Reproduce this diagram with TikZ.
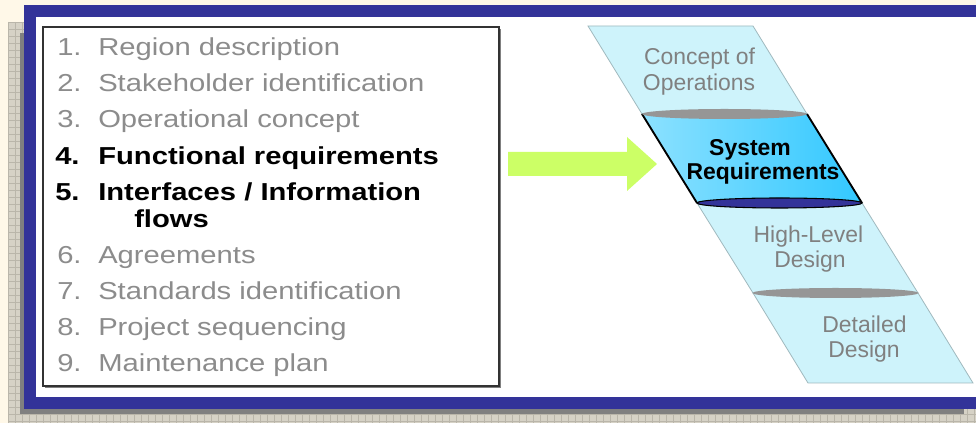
\documentclass[tikz,border=0pt]{standalone}
\usepackage{fontspec}
\setmainfont{Liberation Sans}
\usetikzlibrary{shapes.geometric}
\definecolor{cream}{RGB}{255,248,232}
\definecolor{texfill}{RGB}{214,210,198}
\definecolor{texline}{RGB}{186,182,170}
\definecolor{shadowgray}{RGB}{128,128,128}
\definecolor{frameblue}{RGB}{51,51,153}
\definecolor{listgray}{RGB}{140,140,140}
\definecolor{stagegray}{RGB}{128,128,128}
\definecolor{stagefill}{RGB}{206,243,251}
\definecolor{stageedge}{RGB}{160,185,190}
\definecolor{sysA}{RGB}{140,225,255}
\definecolor{sysB}{RGB}{50,200,255}
\definecolor{arrowgreen}{RGB}{204,255,102}
\definecolor{ellgray}{RGB}{150,150,150}
\newcommand{\wide}[1]{\scalebox{1.19}[1]{#1}}
\tikzset{
  listitem/.style={anchor=base west, inner sep=0pt, font=\fontsize{18.4pt}{22pt}\selectfont, text=listgray},
  listbold/.style={anchor=base west, inner sep=0pt, font=\fontsize{18.4pt}{22pt}\selectfont\bfseries, text=black},
  stagetext/.style={anchor=base, inner sep=0pt, font=\fontsize{17.2pt}{20pt}\selectfont, text=stagegray},
  systext/.style={anchor=base, inner sep=0pt, font=\fontsize{17.2pt}{20pt}\selectfont\bfseries, text=black},
  stage/.style={fill=stagefill, draw=stageedge, line width=0.6pt},
  texgrid/.style={draw=texline, line width=0.4pt},
}
\begin{document}
\begin{tikzpicture}[x=0.75pt,y=-0.75pt]
\useasboundingbox (0,0) rectangle (976,423);
% background
\fill[cream] (0,0) rectangle (976,423);
\fill[texfill] (8,22) rectangle (976,423);
\foreach \gx in {8,15,...,976} \draw[texgrid] (\gx,22) -- (\gx,423);
\foreach \gy in {22,29,...,423} \draw[texgrid] (8,\gy) -- (976,\gy);
% shadow and frame
\fill[shadowgray] (20,33) rectangle (964,414);
\fill[frameblue] (24,5) rectangle (976,409);
\fill[white] (36,17) rectangle (976,397);
% list box
\coordinate (boxnw) at (43,27);
\coordinate (boxse) at (499,386);
\draw[shadowgray, line width=1.2pt] (45,387.5) -- (500.5,387.5) -- (500.5,29);
\draw[black!80, line width=1.2pt] (boxnw) rectangle (boxse);
% list
\node[listitem] (n1) at (57,56) {\wide{1.}};
\node[listitem] (t1) at (98,56) {\wide{Region description}};
\node[listitem] (n2) at (57,92) {\wide{2.}};
\node[listitem] (t2) at (98,92) {\wide{Stakeholder identification}};
\node[listitem] (n3) at (57,128) {\wide{3.}};
\node[listitem] (t3) at (98,128) {\wide{Operational concept}};
\node[listbold] (n4) at (55,165) {\wide{4.}};
\node[listbold] (t4) at (98,165) {\wide{Functional requirements}};
\node[listbold] (n5) at (55,201) {\wide{5.}};
\node[listbold] (t5) at (98,201) {\wide{Interfaces / Information}};
\node[listbold] (t5b) at (134,228) {\wide{flows}};
\node[listitem] (n6) at (57,264) {\wide{6.}};
\node[listitem] (t6) at (98,264) {\wide{Agreements}};
\node[listitem] (n7) at (57,300) {\wide{7.}};
\node[listitem] (t7) at (98,300) {\wide{Standards identification}};
\node[listitem] (n8) at (57,336) {\wide{8.}};
\node[listitem] (t8) at (98,336) {\wide{Project sequencing}};
\node[listitem] (n9) at (57,372) {\wide{9.}};
\node[listitem] (t9) at (98,372) {\wide{Maintenance plan}};
% arrow
\fill[arrowgreen] (508,152) -- (627,152) -- (627,137) -- (657,164) -- (627,191) -- (627,176) -- (508,176) -- cycle;
% stages
\path[stage] (588,26) -- (753,26) -- (807,114) -- (642,114) -- cycle;
\path[stage] (697,203) -- (862,203) -- (918,293) -- (753,293) -- cycle;
\path[stage] (753,293) -- (918,293) -- (973,383) -- (808,383) -- cycle;
\shade[left color=sysA, right color=sysB] (642,114) -- (807,114) -- (862,203) -- (697,203) -- cycle;
\draw[black, line width=1.4pt] (642,114) -- (697,203);
\draw[black, line width=1.4pt] (807,114) -- (862,203);
\fill[ellgray] (724.5,114) ellipse [x radius=82.5, y radius=5];
\filldraw[fill=frameblue, draw=black, line width=0.8pt] (779.5,203) ellipse [x radius=82.5, y radius=5];
\fill[ellgray] (835.5,293) ellipse [x radius=83, y radius=5];
% stage labels
\node[stagetext] (c1) at (699.5,65) {Concept of};
\node[stagetext] (c2) at (699,91) {Operations};
\node[systext] (s1) at (750,156) {System};
\node[systext] (s2) at (763,180) {Requirements};
\node[stagetext] (h1) at (808.5,243) {High-Level};
\node[stagetext] (h2) at (810,268) {Design};
\node[stagetext] (d1) at (864.5,333) {Detailed};
\node[stagetext] (d2) at (864,358) {Design};
\end{tikzpicture}
\end{document}
